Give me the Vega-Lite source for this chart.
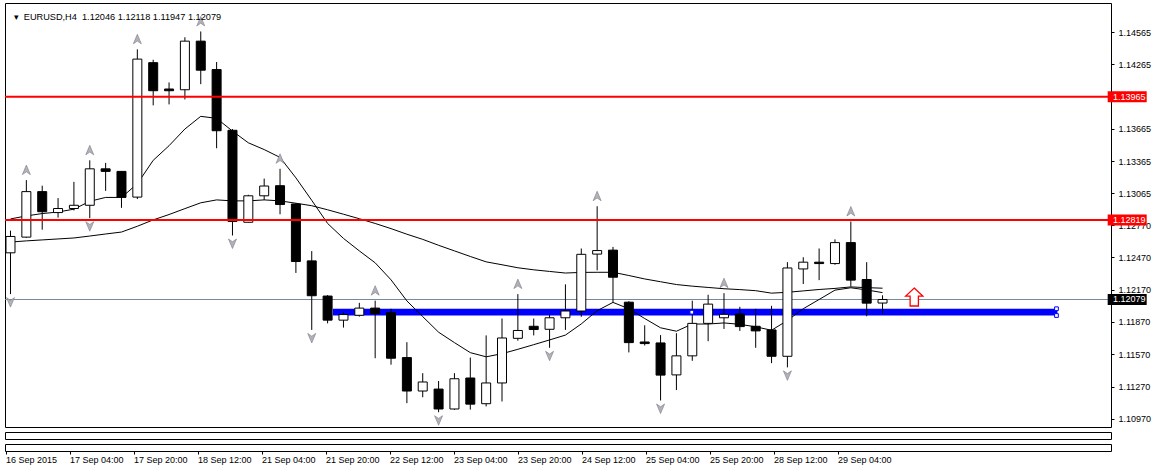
{
  "$schema": "https://vega.github.io/schema/vega-lite/v6.json",
  "padding": {"left": 3, "top": 2, "right": 0, "bottom": 0},
  "background": "white",
  "spacing": 3,
  "config": {
    "font": "Liberation Sans",
    "view": {"stroke": "black", "strokeWidth": 1},
    "axis": {"grid": false, "domain": false, "tickColor": "black", "labelColor": "black", "labelFontSize": 9, "labelFont": "Liberation Sans"}
  },
  "datasets": {
    "bars": [
      {"t":0,"o":1.12513,"h":1.12719,"l":1.12129,"c":1.12665,"f":1.12828,"s":1.12613,"fd":1},
      {"t":1,"o":1.12659,"h":1.13189,"l":1.12653,"c":1.13082,"f":1.12856,"s":1.12624,"fu":1},
      {"t":2,"o":1.13082,"h":1.13137,"l":1.12728,"c":1.12895,"f":1.12878,"s":1.12633},
      {"t":3,"o":1.12887,"h":1.13022,"l":1.12840,"c":1.12925,"f":1.12892,"s":1.12642},
      {"t":4,"o":1.12925,"h":1.13173,"l":1.12907,"c":1.12955,"f":1.12919,"s":1.12651},
      {"t":5,"o":1.12955,"h":1.13373,"l":1.12835,"c":1.13294,"f":1.12992,"s":1.12669,"fu":1,"fd":1},
      {"t":6,"o":1.13294,"h":1.13349,"l":1.13089,"c":1.13270,"f":1.13028,"s":1.12688},
      {"t":7,"o":1.13270,"h":1.13273,"l":1.12931,"c":1.13028,"f":1.13028,"s":1.12706},
      {"t":8,"o":1.13031,"h":1.14405,"l":1.13013,"c":1.14314,"f":1.13155,"s":1.12760,"fu":1},
      {"t":9,"o":1.14281,"h":1.14308,"l":1.13884,"c":1.14020,"f":1.13373,"s":1.12819},
      {"t":10,"o":1.14036,"h":1.14097,"l":1.13893,"c":1.14020,"f":1.13509,"s":1.12869},
      {"t":11,"o":1.14029,"h":1.14517,"l":1.13939,"c":1.14481,"f":1.13664,"s":1.12924},
      {"t":12,"o":1.14481,"h":1.14571,"l":1.14081,"c":1.14211,"f":1.13782,"s":1.12978,"fu":1},
      {"t":13,"o":1.14217,"h":1.14287,"l":1.13485,"c":1.13648,"f":1.13763,"s":1.13005},
      {"t":14,"o":1.13652,"h":1.13664,"l":1.12674,"c":1.12804,"f":1.13645,"s":1.12996,"fd":1},
      {"t":15,"o":1.12797,"h":1.13053,"l":1.12795,"c":1.13043,"f":1.13536,"s":1.12996},
      {"t":16,"o":1.13043,"h":1.13203,"l":1.13004,"c":1.13134,"f":1.13473,"s":1.13005},
      {"t":17,"o":1.13137,"h":1.13294,"l":1.12871,"c":1.12962,"f":1.13400,"s":1.12996,"fu":1},
      {"t":18,"o":1.12967,"h":1.12976,"l":1.12326,"c":1.12432,"f":1.13210,"s":1.12974},
      {"t":19,"o":1.12438,"h":1.12529,"l":1.11796,"c":1.12114,"f":1.13001,"s":1.12951,"fd":1},
      {"t":20,"o":1.12111,"h":1.12120,"l":1.11857,"c":1.11887,"f":1.12786,"s":1.12913},
      {"t":21,"o":1.11887,"h":1.11963,"l":1.11818,"c":1.11939,"f":1.12647,"s":1.12872},
      {"t":22,"o":1.11932,"h":1.12048,"l":1.11920,"c":1.11999,"f":1.12531,"s":1.12830},
      {"t":23,"o":1.11999,"h":1.12068,"l":1.11533,"c":1.11948,"f":1.12420,"s":1.12786,"fu":1},
      {"t":24,"o":1.11957,"h":1.11993,"l":1.11473,"c":1.11533,"f":1.12262,"s":1.12738},
      {"t":25,"o":1.11539,"h":1.11682,"l":1.11115,"c":1.11228,"f":1.12066,"s":1.12686},
      {"t":26,"o":1.11228,"h":1.11394,"l":1.11170,"c":1.11312,"f":1.11920,"s":1.12638},
      {"t":27,"o":1.11246,"h":1.11321,"l":1.11031,"c":1.11061,"f":1.11775,"s":1.12583,"fd":1},
      {"t":28,"o":1.11061,"h":1.11394,"l":1.11053,"c":1.11342,"f":1.11678,"s":1.12531},
      {"t":29,"o":1.11349,"h":1.11539,"l":1.11055,"c":1.11106,"f":1.11585,"s":1.12479},
      {"t":30,"o":1.11110,"h":1.11745,"l":1.11085,"c":1.11303,"f":1.11546,"s":1.12429},
      {"t":31,"o":1.11303,"h":1.11902,"l":1.11131,"c":1.11721,"f":1.11575,"s":1.12402},
      {"t":32,"o":1.11718,"h":1.12129,"l":1.11696,"c":1.11791,"f":1.11616,"s":1.12374,"fu":1},
      {"t":33,"o":1.11830,"h":1.11902,"l":1.11745,"c":1.11800,"f":1.11659,"s":1.12355},
      {"t":34,"o":1.11802,"h":1.11939,"l":1.11630,"c":1.11909,"f":1.11703,"s":1.12340,"fd":1},
      {"t":35,"o":1.11909,"h":1.12220,"l":1.11796,"c":1.11972,"f":1.11748,"s":1.12325},
      {"t":36,"o":1.11972,"h":1.12553,"l":1.11918,"c":1.12499,"f":1.11852,"s":1.12331},
      {"t":37,"o":1.12501,"h":1.12946,"l":1.12350,"c":1.12534,"f":1.11975,"s":1.12332,"fu":1},
      {"t":38,"o":1.12538,"h":1.12568,"l":1.12054,"c":1.12286,"f":1.12052,"s":1.12332},
      {"t":39,"o":1.12054,"h":1.12063,"l":1.11587,"c":1.11678,"f":1.11993,"s":1.12302},
      {"t":40,"o":1.11684,"h":1.11839,"l":1.11651,"c":1.11669,"f":1.11902,"s":1.12270},
      {"t":41,"o":1.11675,"h":1.11748,"l":1.11140,"c":1.11376,"f":1.11816,"s":1.12244,"fd":1},
      {"t":42,"o":1.11378,"h":1.11766,"l":1.11237,"c":1.11555,"f":1.11784,"s":1.12218},
      {"t":43,"o":1.11555,"h":1.12068,"l":1.11509,"c":1.11857,"f":1.11851,"s":1.12203},
      {"t":44,"o":1.11857,"h":1.12123,"l":1.11691,"c":1.12036,"f":1.11851,"s":1.12191},
      {"t":45,"o":1.11909,"h":1.12138,"l":1.11805,"c":1.11941,"f":1.11861,"s":1.12179,"fu":1},
      {"t":46,"o":1.11945,"h":1.12011,"l":1.11787,"c":1.11827,"f":1.11848,"s":1.12171},
      {"t":47,"o":1.11830,"h":1.11993,"l":1.11630,"c":1.11787,"f":1.11825,"s":1.12161},
      {"t":48,"o":1.11796,"h":1.12020,"l":1.11487,"c":1.11551,"f":1.11793,"s":1.12138},
      {"t":49,"o":1.11551,"h":1.12426,"l":1.11448,"c":1.12372,"f":1.11884,"s":1.12146,"fd":1},
      {"t":50,"o":1.12363,"h":1.12472,"l":1.12223,"c":1.12426,"f":1.11993,"s":1.12159},
      {"t":51,"o":1.12426,"h":1.12553,"l":1.12259,"c":1.12413,"f":1.12079,"s":1.12172},
      {"t":52,"o":1.12413,"h":1.12638,"l":1.12402,"c":1.12608,"f":1.12166,"s":1.12182},
      {"t":53,"o":1.12608,"h":1.12804,"l":1.12199,"c":1.12259,"f":1.12188,"s":1.12196,"fu":1},
      {"t":54,"o":1.12265,"h":1.12426,"l":1.11923,"c":1.12045,"f":1.12168,"s":1.12189},
      {"t":55,"o":1.12046,"h":1.12118,"l":1.11947,"c":1.12079,"f":1.12143,"s":1.12184}
    ],
    "levels": [
      {"p":1.13965,"kind":"level","lab":"1.13965"},
      {"p":1.12819,"kind":"level","lab":"1.12819"},
      {"p":1.12079,"kind":"bid","lab":"1.12079"}
    ],
    "band": [{"t1":20.34,"t2":66.03,"p1":1.11993,"p2":1.11930}],
    "handles": [{"t":65.97,"p":1.11993},{"t":65.97,"p":1.11930},{"t":42.97,"p":1.11961}],
    "signal": [{"t":57,"p":1.12102}]
  },
  "vconcat": [
    {
      "width": 1106,
      "height": 424,
      "resolve": {"axis": {"y": "independent", "x": "independent"}},
      "layer": [
        {
          "data": {"name": "band"},
          "mark": {"type": "rect", "color": "#0000ff", "clip": true},
          "encoding": {
            "x": {"field": "t1", "type": "quantitative", "scale": {"domain": [-0.03125, 69.09375], "nice": false, "zero": false}, "axis": null},
            "x2": {"field": "t2"},
            "y": {"field": "p1", "type": "quantitative", "scale": {"domain": [1.1094, 1.147892], "nice": false, "zero": false},
                  "axis": {"orient": "right", "title": null, "zindex": 0, "values": [1.14565, 1.14265, 1.13665, 1.13365, 1.13065, 1.1277, 1.1247, 1.1217, 1.1187, 1.1157, 1.1127, 1.1097], "format": ".5f", "tickSize": 3, "labelPadding": 4, "labelFlush": false, "labelOverlap": false, "labelBaseline": "middle"}},
            "y2": {"field": "p2"}
          }
        },
        {
          "data": {"name": "levels"},
          "transform": [{"filter": "datum.kind == 'bid'"}],
          "mark": {"type": "rule", "color": "#778899", "strokeWidth": 1},
          "encoding": {
            "y": {"field": "p", "type": "quantitative", "scale": {"domain": [1.1094, 1.147892], "nice": false, "zero": false}, "axis": null}
          }
        },
        {
          "data": {"name": "bars"},
          "mark": {"type": "line", "color": "black", "strokeWidth": 1, "clip": true},
          "encoding": {
            "x": {"field": "t", "type": "quantitative", "scale": {"domain": [-0.03125, 69.09375], "nice": false, "zero": false}, "axis": null},
            "y": {"field": "s", "type": "quantitative", "scale": {"domain": [1.1094, 1.147892], "nice": false, "zero": false}, "axis": null}
          }
        },
        {
          "data": {"name": "bars"},
          "mark": {"type": "line", "color": "black", "strokeWidth": 1, "clip": true},
          "encoding": {
            "x": {"field": "t", "type": "quantitative", "scale": {"domain": [-0.03125, 69.09375], "nice": false, "zero": false}, "axis": null},
            "y": {"field": "f", "type": "quantitative", "scale": {"domain": [1.1094, 1.147892], "nice": false, "zero": false}, "axis": null}
          }
        },
        {
          "data": {"name": "bars"},
          "mark": {"type": "rule", "color": "black", "strokeWidth": 1, "clip": true},
          "encoding": {
            "x": {"field": "t", "type": "quantitative", "scale": {"domain": [-0.03125, 69.09375], "nice": false, "zero": false}, "axis": null},
            "y": {"field": "l", "type": "quantitative", "scale": {"domain": [1.1094, 1.147892], "nice": false, "zero": false}, "axis": null},
            "y2": {"field": "h"}
          }
        },
        {
          "data": {"name": "bars"},
          "mark": {"type": "bar", "orient": "vertical", "width": 9, "stroke": "black", "strokeWidth": 1, "clip": true},
          "encoding": {
            "x": {"field": "t", "type": "quantitative", "scale": {"domain": [-0.03125, 69.09375], "nice": false, "zero": false}, "axis": null},
            "y": {"field": "o", "type": "quantitative", "scale": {"domain": [1.1094, 1.147892], "nice": false, "zero": false}, "axis": null},
            "y2": {"field": "c"},
            "fill": {"condition": {"test": "datum.c < datum.o", "value": "black"}, "value": "white"}
          }
        },
        {
          "data": {"name": "levels"},
          "transform": [{"filter": "datum.kind == 'level'"}],
          "mark": {"type": "rule", "color": "#ff0000", "strokeWidth": 2},
          "encoding": {
            "y": {"field": "p", "type": "quantitative", "scale": {"domain": [1.1094, 1.147892], "nice": false, "zero": false}, "axis": null}
          }
        },
        {
          "data": {"name": "bars"},
          "transform": [{"filter": "datum.fu == 1"}],
          "mark": {"type": "point", "shape": "M0,-1L0.8,0.9L0,0.35L-0.8,0.9Z", "filled": true, "fill": "#b2b2ba", "stroke": "#7a7a82", "strokeWidth": 0.6, "opacity": 1, "size": 100, "yOffset": -10},
          "encoding": {
            "x": {"field": "t", "type": "quantitative", "scale": {"domain": [-0.03125, 69.09375], "nice": false, "zero": false}, "axis": null},
            "y": {"field": "h", "type": "quantitative", "scale": {"domain": [1.1094, 1.147892], "nice": false, "zero": false}, "axis": null}
          }
        },
        {
          "data": {"name": "bars"},
          "transform": [{"filter": "datum.fd == 1"}],
          "mark": {"type": "point", "shape": "M0,1L0.8,-0.9L0,-0.35L-0.8,-0.9Z", "filled": true, "fill": "#b2b2ba", "stroke": "#7a7a82", "strokeWidth": 0.6, "opacity": 1, "size": 100, "yOffset": 8},
          "encoding": {
            "x": {"field": "t", "type": "quantitative", "scale": {"domain": [-0.03125, 69.09375], "nice": false, "zero": false}, "axis": null},
            "y": {"field": "l", "type": "quantitative", "scale": {"domain": [1.1094, 1.147892], "nice": false, "zero": false}, "axis": null}
          }
        },
        {
          "data": {"name": "handles"},
          "mark": {"type": "point", "shape": "square", "filled": true, "fill": "white", "stroke": "#0000ff", "strokeWidth": 1, "opacity": 1, "size": 14},
          "encoding": {
            "x": {"field": "t", "type": "quantitative", "scale": {"domain": [-0.03125, 69.09375], "nice": false, "zero": false}, "axis": null},
            "y": {"field": "p", "type": "quantitative", "scale": {"domain": [1.1094, 1.147892], "nice": false, "zero": false}, "axis": null}
          }
        },
        {
          "data": {"name": "signal"},
          "mark": {"type": "point", "shape": "M0,-1L0.95,-0.1L0.46,-0.1L0.46,1L-0.46,1L-0.46,-0.1L-0.95,-0.1Z", "filled": true, "fill": "white", "stroke": "#ff0000", "strokeWidth": 1.3, "opacity": 1, "size": 324},
          "encoding": {
            "x": {"field": "t", "type": "quantitative", "scale": {"domain": [-0.03125, 69.09375], "nice": false, "zero": false}, "axis": null},
            "y": {"field": "p", "type": "quantitative", "scale": {"domain": [1.1094, 1.147892], "nice": false, "zero": false}, "axis": null}
          }
        },
        {
          "data": {"name": "levels"},
          "mark": {"type": "bar", "orient": "horizontal", "height": 11},
          "encoding": {
            "x": {"datum": 69.2, "type": "quantitative", "scale": {"domain": [-0.03125, 69.09375], "nice": false, "zero": false}, "axis": null},
            "x2": {"datum": 71.66},
            "y": {"field": "p", "type": "quantitative", "scale": {"domain": [1.1094, 1.147892], "nice": false, "zero": false}, "axis": null},
            "fill": {"condition": {"test": "datum.kind == 'bid'", "value": "black"}, "value": "#ff0000"}
          }
        },
        {
          "data": {"name": "levels"},
          "mark": {"type": "text", "align": "left", "baseline": "middle", "fontSize": 9, "color": "white", "font": "Liberation Sans"},
          "encoding": {
            "x": {"datum": 69.53, "type": "quantitative", "scale": {"domain": [-0.03125, 69.09375], "nice": false, "zero": false}, "axis": null},
            "y": {"field": "p", "type": "quantitative", "scale": {"domain": [1.1094, 1.147892], "nice": false, "zero": false}, "axis": null},
            "text": {"field": "lab"}
          }
        },
        {
          "data": {"values": [{"head": "▾\u00a0\u00a0EURUSD,H4\u00a0\u00a01.12046 1.12118 1.11947 1.12079"}]},
          "mark": {"type": "text", "align": "left", "baseline": "alphabetic", "fontSize": 9.2, "color": "black", "font": "Liberation Sans"},
          "encoding": {
            "x": {"datum": 0.2, "type": "quantitative", "scale": {"domain": [-0.03125, 69.09375], "nice": false, "zero": false}, "axis": null},
            "y": {"datum": 1.1468, "type": "quantitative", "scale": {"domain": [1.1094, 1.147892], "nice": false, "zero": false}, "axis": null},
            "text": {"field": "head"}
          }
        }
      ]
    },
    {
      "width": 1106,
      "height": 7,
      "data": {"values": []},
      "mark": "point",
      "encoding": {
        "x": {"field": "t", "type": "quantitative", "scale": {"domain": [-0.03125, 69.09375], "nice": false, "zero": false}, "axis": null}
      }
    },
    {
      "width": 1106,
      "height": 7,
      "data": {"values": []},
      "mark": "point",
      "encoding": {
        "x": {"field": "t", "type": "quantitative", "scale": {"domain": [-0.03125, 69.09375], "nice": false, "zero": false},
              "axis": {"orient": "bottom", "title": null, "values": [0, 4, 8, 12, 16, 20, 24, 28, 32, 36, 40, 44, 48, 52],
                       "labelExpr": "['16 Sep 2015','17 Sep 04:00','17 Sep 20:00','18 Sep 12:00','21 Sep 04:00','21 Sep 20:00','22 Sep 12:00','23 Sep 04:00','23 Sep 20:00','24 Sep 12:00','25 Sep 04:00','25 Sep 20:00','28 Sep 12:00','29 Sep 04:00'][round(datum.value / 4)]",
                       "tickSize": 3, "labelAlign": "left", "labelBaseline": "top", "labelPadding": 1, "labelOffset": 0, "labelFlush": false, "labelOverlap": false}}
      }
    }
  ]
}
